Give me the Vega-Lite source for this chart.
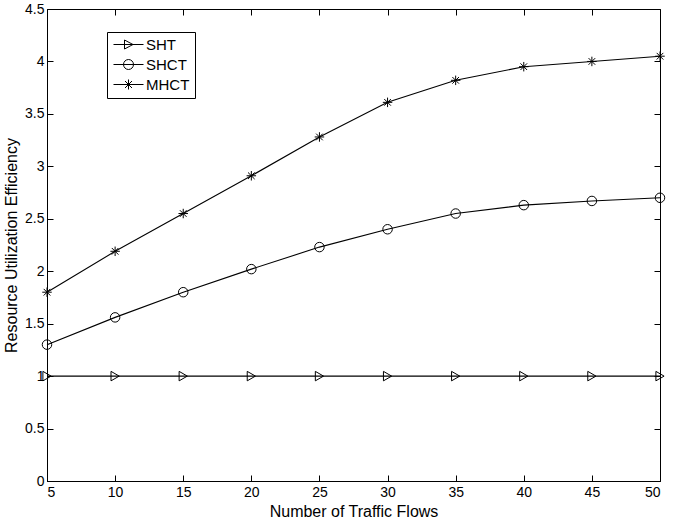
{
  "$schema": "https://vega.github.io/schema/vega-lite/v6.json",
  "width": 613,
  "height": 472,
  "autosize": "none",
  "padding": {"left": 47, "top": 9, "right": 18, "bottom": 44},
  "background": "white",
  "config": {
    "view": {"stroke": "black", "strokeWidth": 1},
    "font": "Liberation Sans",
    "axis": {"grid": false, "domainColor": "black", "tickColor": "black", "labelColor": "black", "titleColor": "black", "labelFont": "Liberation Sans", "titleFont": "Liberation Sans", "labelFontSize": 14, "titleFontSize": 16, "titleFontWeight": "normal", "tickSize": -6, "domainWidth": 1, "tickWidth": 1}
  },
  "data": {"values": [
    {"x": 5, "y": 1.0, "s": "SHT"}, {"x": 10, "y": 1.0, "s": "SHT"}, {"x": 15, "y": 1.0, "s": "SHT"}, {"x": 20, "y": 1.0, "s": "SHT"}, {"x": 25, "y": 1.0, "s": "SHT"},
    {"x": 30, "y": 1.0, "s": "SHT"}, {"x": 35, "y": 1.0, "s": "SHT"}, {"x": 40, "y": 1.0, "s": "SHT"}, {"x": 45, "y": 1.0, "s": "SHT"}, {"x": 50, "y": 1.0, "s": "SHT"},
    {"x": 5, "y": 1.3, "s": "SHCT"}, {"x": 10, "y": 1.56, "s": "SHCT"}, {"x": 15, "y": 1.8, "s": "SHCT"}, {"x": 20, "y": 2.02, "s": "SHCT"}, {"x": 25, "y": 2.23, "s": "SHCT"},
    {"x": 30, "y": 2.4, "s": "SHCT"}, {"x": 35, "y": 2.55, "s": "SHCT"}, {"x": 40, "y": 2.63, "s": "SHCT"}, {"x": 45, "y": 2.67, "s": "SHCT"}, {"x": 50, "y": 2.7, "s": "SHCT"},
    {"x": 5, "y": 1.8, "s": "MHCT"}, {"x": 10, "y": 2.19, "s": "MHCT"}, {"x": 15, "y": 2.55, "s": "MHCT"}, {"x": 20, "y": 2.91, "s": "MHCT"}, {"x": 25, "y": 3.28, "s": "MHCT"},
    {"x": 30, "y": 3.61, "s": "MHCT"}, {"x": 35, "y": 3.82, "s": "MHCT"}, {"x": 40, "y": 3.95, "s": "MHCT"}, {"x": 45, "y": 4.0, "s": "MHCT"}, {"x": 50, "y": 4.05, "s": "MHCT"}
  ]},
  "resolve": {"axis": {"x": "independent", "y": "independent"}},
  "layer": [
    {
      "resolve": {"scale": {"shape": "independent"}},
      "layer": [
        {
          "mark": {"type": "line", "color": "black", "strokeWidth": 1.1},
          "encoding": {
            "x": {"field": "x", "type": "quantitative", "scale": {"domain": [5, 50], "nice": false}, "axis": {"values": [5,10,15,20,25,30,35,40,45,50], "title": "Number of Traffic Flows", "labelPadding": 10, "titlePadding": 4}},
            "y": {"field": "y", "type": "quantitative", "scale": {"domain": [0, 4.5], "nice": false}, "axis": {"values": [0,0.5,1,1.5,2,2.5,3,3.5,4,4.5], "format": "~g", "title": "Resource Utilization Efficiency", "labelPadding": 9, "titlePadding": 5}},
            "detail": {"field": "s"}
          }
        },
        {
          "mark": {"type": "point", "filled": false, "stroke": "black", "strokeWidth": 1, "opacity": 1},
          "encoding": {
            "x": {"field": "x", "type": "quantitative"},
            "y": {"field": "y", "type": "quantitative"},
            "shape": {"field": "s", "type": "nominal",
              "scale": {"domain": ["SHT", "SHCT", "MHCT"], "range": ["triangle-right", "circle", "M0,-1L0,1M-1,0L1,0M-0.7,-0.7L0.7,0.7M-0.7,0.7L0.7,-0.7"]},
              "legend": null
            },
            "size": {"value": 90}
          }
        },
        {
          "mark": {"type": "point", "filled": false, "stroke": "black", "strokeWidth": 1, "opacity": 1},
          "encoding": {
            "x": {"field": "x", "type": "quantitative"},
            "y": {"field": "y", "type": "quantitative"},
            "shape": {"field": "s", "type": "nominal",
              "scale": {"domain": ["SHT", "SHCT", "MHCT"], "range": ["M-3,0L3,0M-0.8,-0.9L0.9,0L-0.8,0.9Z", "M-3,0L3,0M1,0A1,1,0,1,1,-1,0A1,1,0,1,1,1,0", "M-3,0L3,0M0,-1L0,1M-0.7,-0.7L0.7,0.7M-0.7,0.7L0.7,-0.7"]},
              "legend": {
                "title": null, "orient": "none", "legendX": 60, "legendY": 23,
                "padding": 5, "strokeColor": "black", "fillColor": "white",
                "symbolSize": 100, "symbolOffset": 9, "labelOffset": 10, "labelFontSize": 15, "labelFont": "Liberation Sans", "labelColor": "black", "rowPadding": 4,
                "symbolStrokeColor": "black", "symbolFillColor": "transparent", "symbolOpacity": 1, "symbolStrokeWidth": 1
              }
            },
            "size": {"value": 0}
          }
        }
      ]
    },
    {
      "mark": {"type": "point", "opacity": 0},
      "encoding": {
        "x": {"field": "x", "type": "quantitative", "axis": {"orient": "top", "values": [5,10,15,20,25,30,35,40,45,50], "labels": false, "title": null, "domain": false}},
        "y": {"field": "y", "type": "quantitative", "axis": {"orient": "right", "values": [0,0.5,1,1.5,2,2.5,3,3.5,4,4.5], "labels": false, "title": null, "domain": false}}
      }
    }
  ]
}
